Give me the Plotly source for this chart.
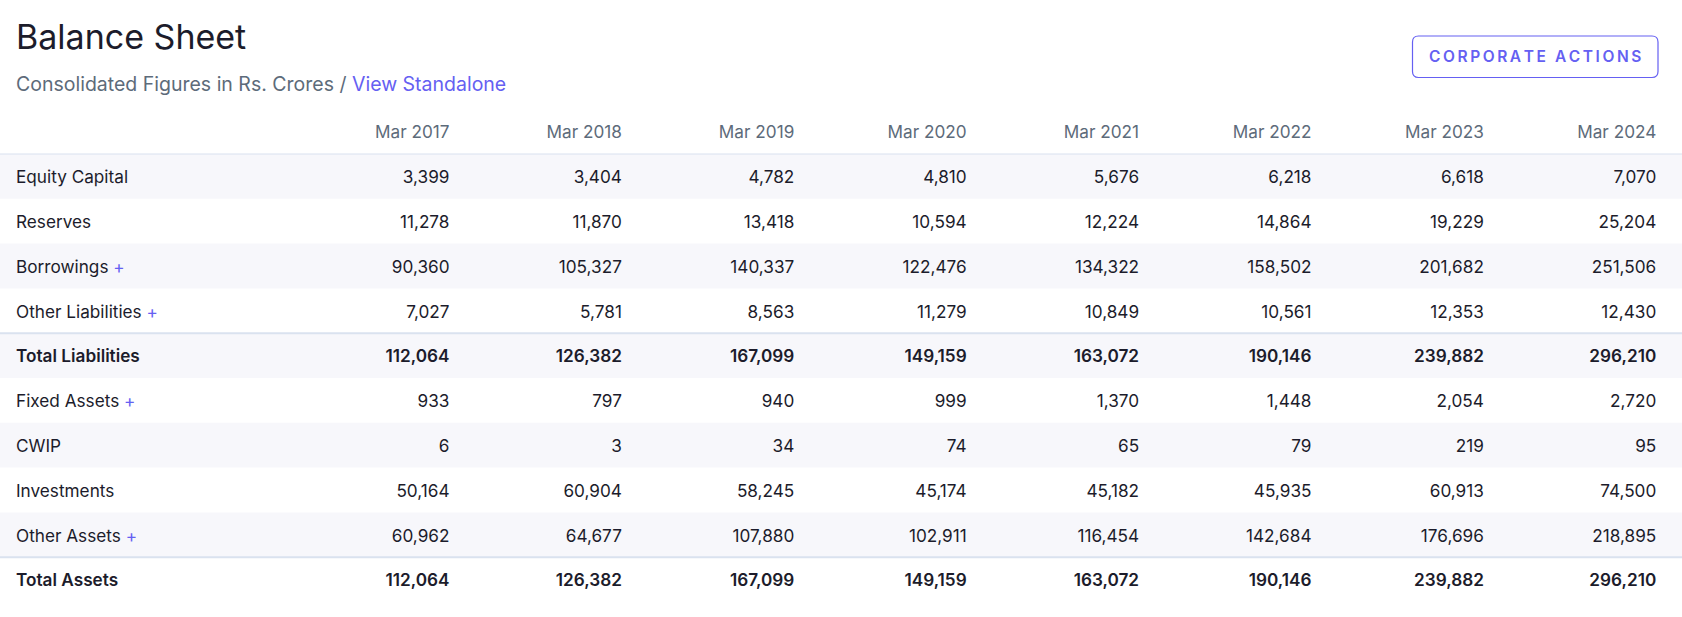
import plotly.graph_objects as go

# balance sheet values (Rs. crores)
years = ["Mar 2017", "Mar 2018", "Mar 2019", "Mar 2020", "Mar 2021", "Mar 2022", "Mar 2023", "Mar 2024"]

equity_capital = [3399, 3404, 4782, 4810, 5676, 6218, 6618, 7070]
reserves = [11278, 11870, 13418, 10594, 12224, 14864, 19229, 25204]
borrowings = [90360, 105327, 140337, 122476, 134322, 158502, 201682, 251506]
other_liabilities = [7027, 5781, 8563, 11279, 10849, 10561, 12353, 12430]
total_liabilities = [112064, 126382, 167099, 149159, 163072, 190146, 239882, 296210]
fixed_assets = [933, 797, 940, 999, 1370, 1448, 2054, 2720]
cwip = [6, 3, 34, 74, 65, 79, 219, 95]
investments = [50164, 60904, 58245, 45174, 45182, 45935, 60913, 74500]
other_assets = [60962, 64677, 107880, 102911, 116454, 142684, 176696, 218895]
total_assets = [112064, 126382, 167099, 149159, 163072, 190146, 239882, 296210]

# (label, values, expandable, is_total)
rows = [
  ("Equity Capital", equity_capital, False, False),
  ("Reserves", reserves, False, False),
  ("Borrowings", borrowings, True, False),
  ("Other Liabilities", other_liabilities, True, False),
  ("Total Liabilities", total_liabilities, False, True),
  ("Fixed Assets", fixed_assets, True, False),
  ("CWIP", cwip, False, False),
  ("Investments", investments, False, False),
  ("Other Assets", other_assets, True, False),
  ("Total Assets", total_assets, False, True),
]

W, H = 1682, 617
FONT = "Inter"
INK = "#1c1c2b"
GREY = "#5d6b7a"
ACCENT = "#6560f2"
BAND = "#f7f7fb"
RULE = "#dae2ef"

# layout of the table in pixels
COL0_RIGHT, COL_PITCH = 449.5, 172.4
ROW0_MID, ROW_PITCH = 179, 44.8
TEXT_DROP = 2.6 / ROW_PITCH   # text sits a little below the band centre
LEFT_PAD = 16


def px(x):
  return x / W


def py(y):
  return 1 - y / H


fig = go.Figure()

cols = list(range(len(years)))
label_x = (LEFT_PAD - COL0_RIGHT) / COL_PITCH

# header row
fig.add_trace(go.Scatter(
  x=cols, y=[-1] * len(cols), text=years, mode="text",
  textposition="middle left",
  textfont=dict(family=FONT, size=17.2, color=GREY),
  hoverinfo="skip", showlegend=False,
))

shapes = []
for r, (label, vals, plus, total) in enumerate(rows):
  weight = 600 if total else 400
  fig.add_trace(go.Scatter(
    x=cols, y=[r] * len(cols), text=[f"{v:,}" for v in vals], mode="text",
    textposition="middle left",
    textfont=dict(family=FONT, size=17.2, color=INK, weight=weight),
    hoverinfo="skip", showlegend=False,
  ))
  txt = label + (f" <span style='color:{ACCENT}'>+</span>" if plus else "")
  fig.add_trace(go.Scatter(
    x=[label_x], y=[r], text=[txt], mode="text",
    textposition="middle right",
    textfont=dict(family=FONT, size=17.2, color=INK, weight=weight),
    hoverinfo="skip", showlegend=False,
  ))
  top = r - 0.5 - TEXT_DROP
  if r % 2 == 0:
    shapes.append(dict(type="rect", xref="paper", yref="y", x0=0, x1=1,
                       y0=top, y1=top + 1, fillcolor=BAND,
                       line=dict(width=0), layer="below"))
  if total:
    shapes.append(dict(type="line", xref="paper", yref="y", x0=0, x1=1,
                       y0=top, y1=top, line=dict(color=RULE, width=2)))

head_rule = -0.5 - TEXT_DROP
shapes.append(dict(type="line", xref="paper", yref="y", x0=0, x1=1,
                   y0=head_rule, y1=head_rule, line=dict(color=RULE, width=1.2)))

# button outline with rounded corners
bx0, bx1, by0, by1, rad = 1412.5, 1658, 36, 77.5, 6
path = (f"M {px(bx0 + rad)} {py(by0)} L {px(bx1 - rad)} {py(by0)} "
        f"Q {px(bx1)} {py(by0)} {px(bx1)} {py(by0 + rad)} "
        f"L {px(bx1)} {py(by1 - rad)} Q {px(bx1)} {py(by1)} {px(bx1 - rad)} {py(by1)} "
        f"L {px(bx0 + rad)} {py(by1)} Q {px(bx0)} {py(by1)} {px(bx0)} {py(by1 - rad)} "
        f"L {px(bx0)} {py(by0 + rad)} Q {px(bx0)} {py(by0)} {px(bx0 + rad)} {py(by0)} Z")
shapes.append(dict(type="path", xref="paper", yref="paper", path=path,
                   line=dict(color=ACCENT, width=1.2)))

btn_text = "\u2009".join("CORPORATE ACTIONS")

annotations = [
  dict(text="Balance Sheet", x=px(14), y=py(36), xref="paper", yref="paper",
       xanchor="left", yanchor="middle", showarrow=False,
       font=dict(family=FONT, size=34, color=INK)),
  dict(text=f"Consolidated Figures in Rs. Crores / <span style='color:{ACCENT}'>View Standalone</span>",
       x=px(14), y=py(84), xref="paper", yref="paper",
       xanchor="left", yanchor="middle", showarrow=False,
       font=dict(family=FONT, size=19.5, color=GREY)),
  dict(text=btn_text, x=px((bx0 + bx1) / 2), y=py((by0 + by1) / 2),
       xref="paper", yref="paper", xanchor="center", yanchor="middle",
       showarrow=False, font=dict(family=FONT, size=15.5, color=ACCENT, weight=600)),
]

fig.update_layout(
  width=W, height=H,
  margin=dict(l=0, r=0, t=0, b=0),
  paper_bgcolor="white", plot_bgcolor="white",
  xaxis=dict(visible=False, range=[-COL0_RIGHT / COL_PITCH, (W - COL0_RIGHT) / COL_PITCH]),
  yaxis=dict(visible=False, range=[(H - ROW0_MID) / ROW_PITCH, -ROW0_MID / ROW_PITCH]),
  shapes=shapes,
  annotations=annotations,
)

# the page should start at the very corner, like the reference
fig.write_html("out.html", config={"displayModeBar": False},
               post_script="document.body.style.margin = '0';")
